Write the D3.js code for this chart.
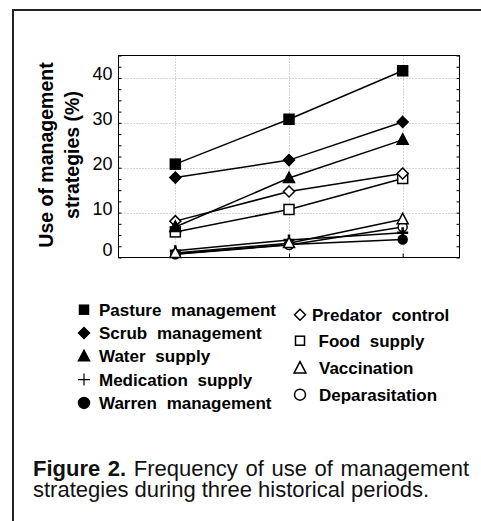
<!DOCTYPE html>
<html><head><meta charset="utf-8">
<script src="https://cdn.jsdelivr.net/npm/d3@7"></script>
<style>
html,body{margin:0;padding:0;background:#fff;}
svg{display:block;font-family:"Liberation Sans",Arial,sans-serif;}
</style></head>
<body>
<svg id="chart" width="481" height="521"></svg>
<script>
// ---- data ----
const periods = ["Period 1", "Period 2", "Period 3"];
const yTicks = [0, 10, 20, 30, 40];
const pasture = [20.8, 30.8, 41.6];
const scrub = [17.8, 21.7, 30.2];
const water = [6.8, 17.7, 26.2];
const predator = [8.1, 14.7, 18.7];
const food = [5.7, 10.7, 17.6];
const vaccination = [1.0, 3.2, 8.5];
const deparasitation = [0.7, 2.8, 6.8];
const medication = [1.5, 3.9, 5.5];
const warren = [0.8, 2.9, 4.0];
const seriesNames = ["Pasture management", "Scrub management", "Water supply", "Medication supply", "Warren management",
  "Predator control", "Food supply", "Vaccination", "Deparasitation"];
const yTitle = ["Use of management", "strategies (%)"];
const captionLine1 = "Frequency of use of management";
const captionLine2 = "strategies during three historical periods.";

const series = [
  {name: seriesNames[0], values: pasture, shape: "square", fill: true},
  {name: seriesNames[1], values: scrub, shape: "diamond", fill: true},
  {name: seriesNames[2], values: water, shape: "triangle", fill: true},
  {name: seriesNames[3], values: medication, shape: "plus", fill: false},
  {name: seriesNames[4], values: warren, shape: "circle", fill: true},
  {name: seriesNames[5], values: predator, shape: "diamond", fill: false},
  {name: seriesNames[6], values: food, shape: "square", fill: false},
  {name: seriesNames[7], values: vaccination, shape: "triangle", fill: false},
  {name: seriesNames[8], values: deparasitation, shape: "circle", fill: false}
];

const svg = d3.select("#chart");

// outer figure frame (cropped)
svg.append("path").attr("d", "M13,521 V10 H481").attr("fill", "none").attr("stroke", "#222").attr("stroke-width", 2);

const L = 118.5, R = 459.5, T = 55.5, B = 257.5;
const x = d3.scalePoint().domain(periods).range([L, R]).padding(0.5);
const y = d3.scaleLinear().domain([0, 45]).range([B, T]);

// grid
const g = svg.append("g");
g.selectAll(".hg").data(yTicks.filter(d => d > 0)).join("line")
  .attr("x1", L).attr("x2", R).attr("y1", d => Math.round(y(d)) + 0.5).attr("y2", d => Math.round(y(d)) + 0.5)
  .attr("stroke", "#aaa").attr("stroke-width", 1).attr("stroke-dasharray", "1,2");
g.selectAll(".vg").data(periods).join("line")
  .attr("x1", d => Math.round(x(d)) + 0.5).attr("x2", d => Math.round(x(d)) + 0.5).attr("y1", T).attr("y2", B)
  .attr("stroke", "#aaa").attr("stroke-width", 1).attr("stroke-dasharray", "1,2");

// axes
const minor = d3.range(0, 45.01, 2.5);
const axL = svg.append("g").attr("transform", `translate(${L},0)`)
  .call(d3.axisLeft(y).tickValues(minor).tickSize(-3).tickFormat(""));
axL.select(".domain").remove();
axL.selectAll("line").attr("stroke", "#000");
const axR = svg.append("g").attr("transform", `translate(${R},0)`)
  .call(d3.axisRight(y).tickValues(minor).tickSize(-3).tickFormat(""));
axR.select(".domain").remove();
axR.selectAll("line").attr("stroke", "#000");
const axB = svg.append("g").attr("transform", `translate(0,${B})`)
  .call(d3.axisBottom(x).tickSize(-4).tickFormat(""));
axB.select(".domain").remove();
axB.selectAll("line").attr("stroke", "#000");

const labels = svg.append("g").attr("transform", `translate(${L},0)`)
  .call(d3.axisLeft(y).tickValues(yTicks).tickSize(0).tickPadding(6));
labels.select(".domain").remove();
labels.selectAll("text").attr("font-size", 18).attr("font-family", "Liberation Sans, Arial, sans-serif")
  .attr("fill", "#000").attr("dy", d => d === 0 ? "-0.12em" : "0.1em");

svg.append("rect").attr("x", L).attr("y", T).attr("width", R - L).attr("height", B - T)
  .attr("fill", "none").attr("stroke", "#000").attr("stroke-width", 1);

// y title
const yt = svg.append("text").attr("transform", "translate(0,155) rotate(-90)")
  .attr("text-anchor", "middle").attr("font-weight", "bold").attr("font-size", 19.5);
yt.append("tspan").attr("x", 0).attr("y", 53).text(yTitle[0]);
yt.append("tspan").attr("x", 0).attr("y", 79).text(yTitle[1]);

// marker drawing
function marker(sel, shape, fill, s) {
  const fc = fill ? "#000" : "#fff";
  if (shape === "square") {
    sel.append("rect").attr("x", -s / 2).attr("y", -s / 2).attr("width", s).attr("height", s)
      .attr("fill", fc).attr("stroke", "#000").attr("stroke-width", 1.5);
  } else if (shape === "diamond") {
    const h = s / 2;
    sel.append("path").attr("d", `M0,${-h}L${h},0L0,${h}L${-h},0Z`)
      .attr("fill", fc).attr("stroke", "#000").attr("stroke-width", 1.5);
  } else if (shape === "triangle") {
    const h = s / 2;
    sel.append("path").attr("d", `M0,${-h * 1.1}L${h},${h * 0.8}L${-h},${h * 0.8}Z`)
      .attr("fill", fc).attr("stroke", "#000").attr("stroke-width", 1.5);
  } else if (shape === "circle") {
    sel.append("circle").attr("r", s / 2).attr("fill", fc).attr("stroke", "#000").attr("stroke-width", 1.5);
  } else if (shape === "plus") {
    const h = s / 2;
    sel.append("path").attr("d", `M${-h},0H${h}M0,${-h}V${h}`).attr("stroke", "#000").attr("stroke-width", fill ? 2.5 : 1.2).attr("fill", "none");
  }
}

// lines
const line = d3.line().x((d, i) => x(periods[i])).y(d => y(d));
const order = [4, 8, 3, 7, 6, 5, 2, 1, 0];
order.forEach(k => {
  svg.append("path").attr("d", line(series[k].values)).attr("fill", "none")
    .attr("stroke", "#000").attr("stroke-width", 1.5);
});
const msize = {square: 10, diamond: 11, triangle: 11, circle: 9, plus: 11};
order.forEach(k => {
  const s = series[k];
  s.values.forEach((v, i) => {
    const m = svg.append("g").attr("transform", `translate(${x(periods[i])},${y(v)})`);
    marker(m, s.shape, s.shape === "plus" ? true : s.fill, msize[s.shape]);
  });
});

// legend
const leftCol = series.slice(0, 5), rightCol = series.slice(5);
const lsize = {square: 9, diamond: 11, triangle: 11, circle: 11, plus: 12};
leftCol.forEach((s, i) => {
  const by = 315.7 + i * 23.3;
  const m = svg.append("g").attr("transform", `translate(84,${by - 6})`);
  marker(m, s.shape, s.fill, lsize[s.shape]);
  svg.append("text").attr("x", 99).attr("y", by).attr("font-size", 17).attr("font-weight", "bold")
    .attr("word-spacing", 5).text(s.name);
});
const rsize = {square: 9, diamond: 11, triangle: 12, circle: 11};
const rBase = [320.7, 346.7, 374.3, 400.7];
const rTextX = [312, 318.5, 319, 319];
rightCol.forEach((s, i) => {
  const by = rBase[i];
  const m = svg.append("g").attr("transform", `translate(300,${by - 6})`);
  marker(m, s.shape, false, rsize[s.shape]);
  svg.append("text").attr("x", rTextX[i]).attr("y", by).attr("font-size", 17).attr("font-weight", "bold")
    .attr("word-spacing", 5).text(s.name);
});

// caption (first line justified)
const capFont = 22, capL = 33, capR = 469;
const words1 = [{t: "Figure", b: true}, {t: "2.", b: true}].concat(captionLine1.split(" ").map(t => ({t, b: false})));
const tmp = words1.map(w => svg.append("text").attr("font-size", capFont).attr("font-weight", w.b ? "bold" : "normal").text(w.t));
const widths = tmp.map(t => t.node().getComputedTextLength());
tmp.forEach(t => t.remove());
const total = d3.sum(widths);
const gap = (capR - capL - total) / (words1.length - 1);
let cx = capL;
words1.forEach((w, i) => {
  svg.append("text").attr("x", cx).attr("y", 476).attr("font-size", capFont)
    .attr("font-weight", w.b ? "bold" : "normal").attr("fill", "#111").text(w.t);
  cx += widths[i] + gap;
});
svg.append("text").attr("x", capL).attr("y", 497).attr("font-size", capFont).attr("fill", "#111").text(captionLine2);
</script>
</body></html>
